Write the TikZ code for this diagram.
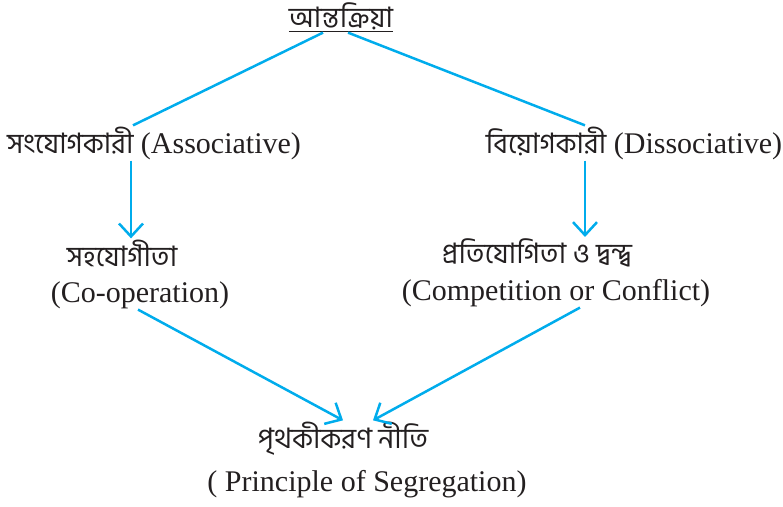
\documentclass[tikz,border=0pt]{standalone}
\usepackage{fontspec}
\setmainfont{Liberation Serif}
\newfontfamily\bn[Script=Bengali, Scale=0.94]{Hind Siliguri}
\usetikzlibrary{arrows.meta, positioning}
\definecolor{colLink}{RGB}{0,172,236}
\definecolor{colText}{RGB}{35,31,32}
\tikzset{
    term/.style={inner sep=0pt, anchor=base, text=colText,
        font=\fontsize{30}{36}\selectfont},
    bnterm/.style={term, font=\fontsize{30}{36}\selectfont\bn},
    link/.style={draw=colLink, line width=2.5pt},
    arrow/.style={link, -{Straight Barb[length=13pt, width=24pt, line width=2.5pt]}}
}

\begin{document}
\begin{tikzpicture}[x=1pt, y=-1pt]

    \useasboundingbox (0,0) rectangle (783,506);

    \node[bnterm] (inter) at (341,27) {\underline{আন্তক্রিয়া}};

    \node[term] (assoc) at (154,153) {{\bn সংযোগকারী} (Associative)};
    \node[term] (dissoc) at (634,153) {{\bn বিয়োগকারী} (Dissociative)};

    \node[bnterm] (coopbn) at (122,266) {সহযোগীতা};
    \node[term] (coopen) at (140,302) {(Co-operation)};

    \node[bnterm] (compbn) at (537,263) {প্রতিযোগিতা ও দ্বন্দ্ব};
    \node[term] (compen) at (556,300) {(Competition or Conflict)};

    \node[bnterm] (segbn) at (343,448) {পৃথকীকরণ নীতি};
    \node[term] (segen) at (367,491) {( Principle of Segregation)};

    \draw[link] ([xshift=-18pt,yshift=-1pt]inter.south) -- ([xshift=-21pt,yshift=1pt]assoc.north);
    \draw[link] ([xshift=7pt,yshift=-1pt]inter.south) -- ([xshift=-49pt,yshift=1pt]dissoc.north);
    \draw[arrow] ([xshift=-23pt,yshift=-1pt]assoc.south) -- ([xshift=9pt,yshift=1pt]coopbn.north);
    \draw[arrow] ([xshift=-49pt,yshift=-1pt]dissoc.south) -- ([xshift=48pt,yshift=1pt]compbn.north);
    \draw[arrow] ([xshift=-2pt,yshift=-1pt]coopen.south) -- ([xshift=0pt,yshift=1pt]segbn.north);
    \draw[arrow] ([xshift=24pt,yshift=-1pt]compen.south) -- ([xshift=30pt,yshift=1pt]segbn.north);

\end{tikzpicture}
\end{document}
